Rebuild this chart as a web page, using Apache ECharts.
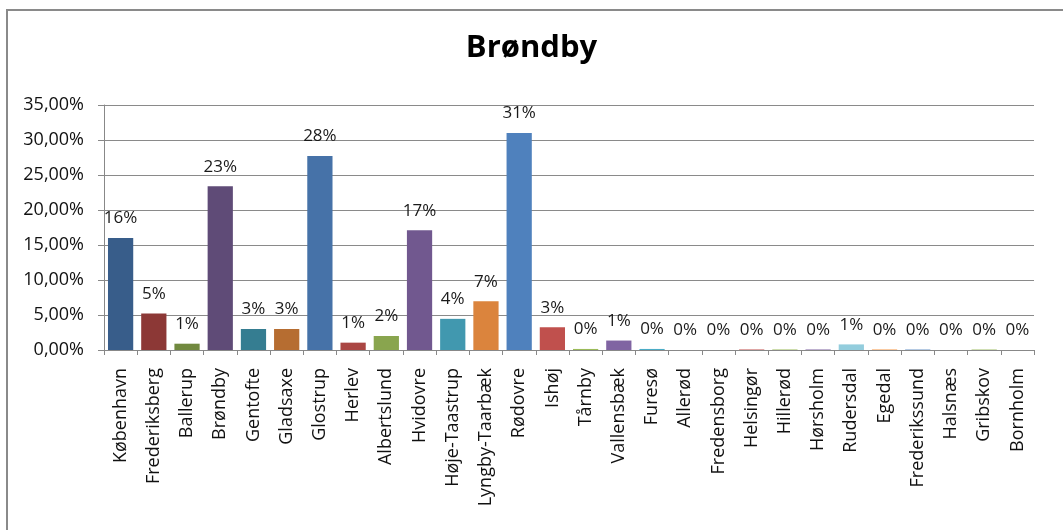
<!DOCTYPE html>
<html>
<head>
<meta charset="utf-8">
<script src="https://cdn.jsdelivr.net/npm/echarts@6/dist/echarts.min.js"></script>
<style>
  html, body { margin: 0; padding: 0; background: #fff; }
  #chart { width: 1063px; height: 530px; }
</style>
</head>
<body>
<div id="chart"></div>
<script>
const chartTitle = 'Brøndby';

const kommuner = [
  'København', 'Frederiksberg', 'Ballerup', 'Brøndby', 'Gentofte', 'Gladsaxe', 'Glostrup',
  'Herlev', 'Albertslund', 'Hvidovre', 'Høje-Taastrup', 'Lyngby-Taarbæk', 'Rødovre', 'Ishøj',
  'Tårnby', 'Vallensbæk', 'Furesø', 'Allerød', 'Fredensborg', 'Helsingør', 'Hillerød',
  'Hørsholm', 'Rudersdal', 'Egedal', 'Frederikssund', 'Halsnæs', 'Gribskov', 'Bornholm'
];

// andel i procent
const andel = [
  16.0, 5.2, 0.9, 23.4, 3.0, 3.0, 27.7,
  1.05, 2.0, 17.1, 4.45, 6.95, 31.0, 3.25,
  0.15, 1.35, 0.15, 0, 0, 0.12, 0.12,
  0.12, 0.8, 0.12, 0.12, 0, 0.12, 0
];

const yTicks = [0, 5, 10, 15, 20, 25, 30, 35];

// excel 2007 vary-colors palette
const palette = [
  '#385d8a', '#8c3836', '#71893f', '#5f4b77', '#357d91', '#b66d31',
  '#4672a8', '#aa4643', '#89a54e', '#71588f', '#4198af', '#db843d',
  '#4f81bd', '#c0504d', '#9bbb59', '#8064a2', '#4bacc6', '#f79646',
  '#95b3d7', '#d99694', '#c3d69b', '#b3a2c7', '#93cddd', '#fac090',
  '#a7c0de', '#dba9a8', '#c7d9a6', '#b9abcc'
];

const fontFam = '"Open Sans", "Noto Sans", sans-serif';

const chart = echarts.init(document.getElementById('chart'));

chart.setOption({
  animation: false,
  textStyle: { fontFamily: fontFam },
  title: {
    text: chartTitle,
    left: 'center',
    top: 28,
    textStyle: { fontSize: 31, fontWeight: 'bold', color: '#000', fontFamily: fontFam }
  },
  graphic: [{
    type: 'rect',
    shape: { x: 7, y: 10, width: 1080, height: 560 },
    style: { fill: 'none', stroke: '#8a8a8a', lineWidth: 2 },
    silent: true
  }],
  grid: { left: 104, right: 29, top: 105, bottom: 180 },
  xAxis: {
    type: 'category',
    data: kommuner,
    axisLine: { lineStyle: { color: '#888', width: 1 } },
    axisTick: { show: true, length: 5, lineStyle: { color: '#888' } },
    axisLabel: { rotate: 90, interval: 0, fontSize: 18, color: '#111', margin: 18 }
  },
  yAxis: {
    type: 'value',
    min: yTicks[0],
    max: yTicks[yTicks.length - 1],
    interval: 5,
    axisLine: { show: true, lineStyle: { color: '#888' } },
    axisTick: { show: true, length: 6, inside: false, lineStyle: { color: '#888' } },
    splitLine: { lineStyle: { color: '#8a8a8a', width: 1 } },
    axisLabel: {
      fontSize: 18,
      color: '#111',
      margin: 20,
      formatter: v => v.toFixed(2).replace('.', ',') + '%'
    }
  },
  series: [{
    type: 'bar',
    data: andel.map((v, i) => ({ value: v, itemStyle: { color: palette[i] } })),
    barCategoryGap: '24%',
    label: {
      show: true,
      position: 'top',
      distance: 11,
      fontSize: 17,
      color: '#1a1a1a',
      formatter: p => Math.round(p.value) + '%'
    }
  }]
});
</script>
</body>
</html>
